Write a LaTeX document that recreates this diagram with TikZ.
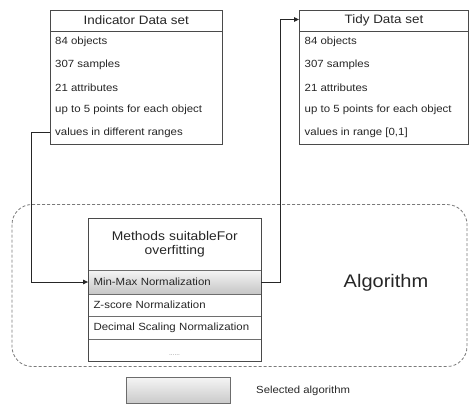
\documentclass[tikz,border=0pt]{standalone}
\usepackage{fontspec}
\setmainfont{Liberation Sans}[FakeStretch=1.1]
\usetikzlibrary{arrows.meta}
\definecolor{ink}{HTML}{262626}
\definecolor{edge}{HTML}{4A4A4A}
\definecolor{dashgray}{HTML}{7A7A7A}
\tikzset{
  rowfont/.style={font=\fontsize{10.4}{12.5}\selectfont},
  listbox/.style={draw=edge, line width=0.9pt, fill=white, inner sep=0pt},
  headcell/.style={inner sep=0pt, text=ink, font=\fontsize{12.2}{14.6}\selectfont},
  itemcell/.style={inner sep=5pt, text=ink, rowfont, align=left, anchor=west},
  methodcell/.style={draw=edge!80, line width=0.8pt, inner sep=5pt, text=ink, rowfont,
    minimum width=172.5pt, text width=162.5pt, align=left},
  link/.style={draw=ink, line width=0.9pt, -{Triangle[length=5pt,width=4.5pt]}},
  groupframe/.style={draw=dashgray, line width=0.8pt, dash pattern=on 3pt off 2pt, rounded corners=20pt},
}
\begin{document}
\begin{tikzpicture}[x=1pt,y=-1pt]
\useasboundingbox (0,0) rectangle (469,405);

% algorithm group frame
\draw[groupframe] (12,204.5) rectangle (467,366.5);
\node[text=ink, font=\fontsize{18.2}{21}\selectfont] (alg) at (386,283) {Algorithm};

% Indicator data set
\node[listbox, minimum width=172.5pt, minimum height=134pt] (indbox) at (136.25,77) {};
\draw[edge, line width=0.9pt] (50,31) -- (222.5,31);
\node[headcell] (indhead) at (136.25,20.5) {Indicator Data set};
\node[itemcell] (ind1) at (50,42.3) {84 objects};
\node[itemcell] (ind2) at (50,64.9) {307 samples};
\node[itemcell] (ind3) at (50,87.5) {21 attributes};
\node[itemcell] (ind4) at (50,110.1) {up to 5 points for each object};
\node[itemcell] (ind5) at (50,132.7) {values in different ranges};

% Tidy data set
\node[listbox, minimum width=169pt, minimum height=134pt] (tidybox) at (384,77) {};
\draw[edge, line width=0.9pt] (299.5,31) -- (468.5,31);
\node[headcell] (tidyhead) at (384,20.5) {Tidy Data set};
\node[itemcell] (tidy1) at (299.5,42.3) {84 objects};
\node[itemcell] (tidy2) at (299.5,64.9) {307 samples};
\node[itemcell] (tidy3) at (299.5,87.5) {21 attributes};
\node[itemcell] (tidy4) at (299.5,110.1) {up to 5 points for each object};
\node[itemcell] (tidy5) at (299.5,132.7) {values in range [0,1]};

% Methods list
\node[methodcell, minimum height=51.5pt, align=center, font=\fontsize{12.6}{14.4}\selectfont] (mhead) at (174.75,244.25) {Methods suitableFor\\overfitting};
\node[methodcell, minimum height=24pt, shading=axis, top color=gray!8, bottom color=gray!45] (mm) at (174.75,282) {Min-Max Normalization};
\node[methodcell, minimum height=22.5pt] (zs) at (174.75,305.25) {Z-score Normalization};
\node[methodcell, minimum height=22.5pt] (ds) at (174.75,327.75) {Decimal Scaling Normalization};
\node[methodcell, minimum height=22.5pt] (more) at (174.75,350.25) {};
\node[text=gray, font=\fontsize{6}{7}\selectfont, inner sep=0pt] (dots) at (174.5,355) {......};
\draw[edge, line width=0.9pt] (mhead.north west) rectangle (more.south east);

% connectors
\coordinate (c1) at (31,132.7);
\coordinate (c2) at (31,282);
\draw[link] (ind5.west) -- (c1) -- (c2) -- (mm.west);
\coordinate (c3) at (280,282);
\coordinate (c4) at (280,19.5);
\draw[link] (mm.east) -- (c3) -- (c4) -- (tidybox.west |- c4);

% legend
\node[draw=gray!85!black, line width=0.8pt, shading=axis, top color=gray!8, bottom color=gray!42,
      minimum width=104pt, minimum height=26pt, inner sep=0pt] (legend) at (178.75,390.25) {};
\node[text=ink, font=\fontsize{10.3}{12}\selectfont, anchor=west, inner sep=0pt] (legendtext) at (256,390.5) {Selected algorithm};
\end{tikzpicture}
\end{document}
